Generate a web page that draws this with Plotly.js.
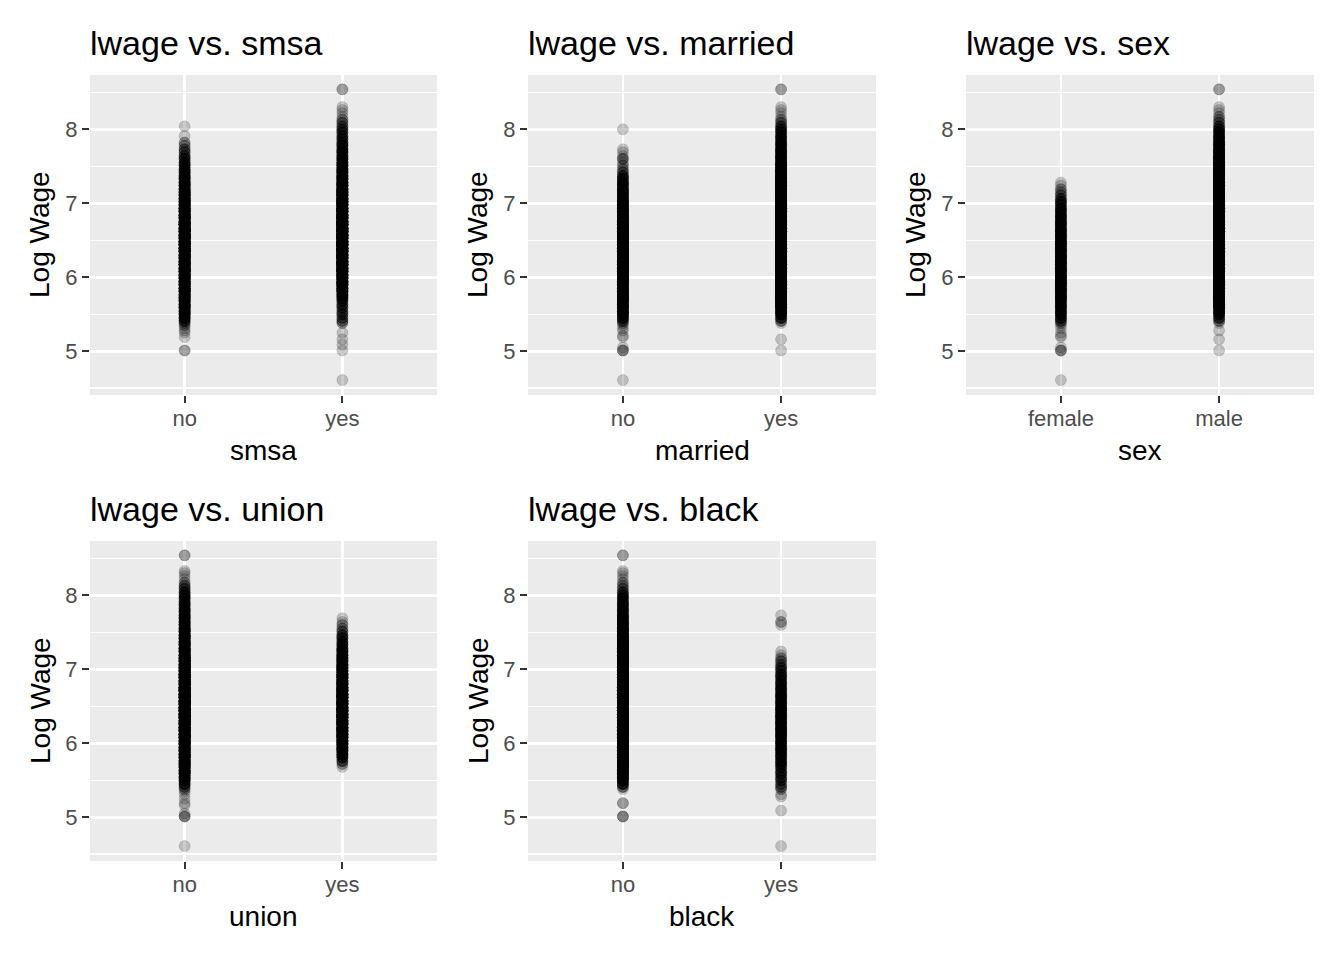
<!DOCTYPE html>
<html>
<head>
<meta charset="utf-8">
<script src="https://cdn.plot.ly/plotly-3.0.1.min.js"></script>
<style>
  html, body { margin: 0; padding: 0; background: #fff; }
  #chart { width: 1344px; height: 960px; }
</style>
</head>
<body>
<div id="chart"></div>
<script>
// distinct lwage values seen in the strips
const lwageLevels = [
  4.61, 5.01, 5.05, 5.09, 5.16, 5.19, 5.21, 5.25, 5.28, 5.31, 5.35, 5.38,
  5.41, 5.45, 5.50, 5.54, 5.59, 5.63, 5.68, 5.72, 5.76, 5.81, 5.85, 5.90, 5.94, 5.99,
  6.03, 6.08, 6.12, 6.17, 6.21, 6.26, 6.30, 6.35, 6.39, 6.44, 6.48, 6.53, 6.57, 6.62, 6.66, 6.71, 6.75, 6.80, 6.84, 6.89, 6.93, 6.98,
  7.02, 7.06, 7.11, 7.15, 7.19, 7.24, 7.28, 7.33, 7.37, 7.42, 7.46, 7.51, 7.55, 7.60, 7.64, 7.69, 7.73, 7.78, 7.82, 7.87, 7.91, 7.96,
  8.00, 8.04, 8.09, 8.13, 8.17, 8.22, 8.26, 8.30, 8.33, 8.54
];

// estimated number of overlapping points at each level, per group
const smsaNo = [
  0, 2, 0, 0, 0, 1, 0, 1, 1, 1, 2, 2,
  5, 8, 10, 11, 12, 13, 14, 15, 16, 17, 18, 18, 19, 20,
  20, 21, 21, 22, 22, 23, 23, 24, 24, 24, 25, 25, 24, 24, 23, 23, 22, 21, 20, 19, 18, 17,
  16, 15, 14, 13, 12, 11, 10, 9, 8, 7, 6, 6, 5, 5, 4, 3, 3, 2, 2, 0, 1, 0,
  0, 1, 0, 0, 0, 0, 0, 0, 0, 0
];
const smsaYes = [
  1, 1, 0, 1, 1, 0, 0, 1, 0, 0, 0, 2,
  3, 3, 4, 3, 4, 4, 5, 7, 9, 11, 13, 15, 17, 19,
  20, 21, 22, 23, 24, 25, 26, 27, 28, 28, 29, 29, 29, 28, 28, 27, 26, 25, 24, 23, 22, 21,
  20, 19, 18, 17, 16, 15, 14, 13, 12, 11, 10, 9, 8, 8, 7, 7, 6, 6, 5, 5, 4, 4,
  4, 3, 3, 2, 1, 1, 1, 1, 0, 2
];
const marriedNo = [
  1, 3, 1, 0, 0, 1, 1, 0, 1, 1, 1, 2,
  4, 7, 9, 10, 11, 12, 13, 14, 15, 16, 16, 17, 17, 18,
  18, 18, 19, 19, 19, 20, 20, 20, 20, 19, 19, 19, 18, 18, 17, 17, 16, 15, 14, 13, 12, 11,
  10, 9, 9, 8, 8, 7, 7, 6, 5, 3, 2, 2, 1, 3, 1, 1, 1, 0, 0, 0, 0, 0,
  1, 0, 0, 0, 0, 0, 0, 0, 0, 0
];
const marriedYes = [
  0, 1, 0, 0, 1, 0, 0, 0, 0, 0, 0, 1,
  3, 6, 8, 10, 12, 14, 16, 18, 20, 21, 22, 23, 24, 25,
  26, 27, 28, 29, 30, 30, 31, 31, 32, 32, 32, 32, 31, 31, 30, 29, 28, 27, 26, 25, 24, 23,
  22, 21, 20, 19, 18, 17, 16, 15, 14, 13, 12, 11, 10, 9, 9, 8, 8, 7, 7, 6, 6, 5,
  5, 4, 3, 2, 1, 1, 1, 1, 0, 2
];
const sexFemale = [
  1, 3, 1, 0, 0, 1, 1, 1, 0, 1, 1, 2,
  4, 6, 7, 7, 8, 8, 9, 9, 10, 10, 10, 11, 11, 11,
  11, 11, 11, 11, 11, 11, 11, 10, 10, 10, 10, 9, 9, 9, 8, 8, 8, 7, 7, 6, 6, 5,
  5, 4, 3, 2, 2, 1, 1, 0, 0, 0, 0, 0, 0, 0, 0, 0, 0, 0, 0, 0, 0, 0,
  0, 0, 0, 0, 0, 0, 0, 0, 0, 0
];
const sexMale = [
  0, 1, 0, 0, 1, 0, 0, 0, 1, 0, 0, 1,
  3, 5, 7, 9, 11, 13, 15, 17, 19, 21, 22, 23, 24, 25,
  26, 27, 28, 29, 30, 31, 32, 33, 34, 34, 35, 35, 35, 34, 34, 33, 32, 31, 30, 29, 28, 27,
  26, 25, 24, 23, 22, 21, 20, 19, 18, 17, 16, 15, 14, 13, 12, 11, 10, 9, 9, 8, 7, 6,
  5, 4, 3, 2, 2, 1, 1, 1, 0, 2
];
const unionNo = [
  1, 3, 1, 0, 1, 1, 0, 1, 0, 1, 1, 2,
  3, 6, 8, 10, 12, 14, 15, 16, 17, 18, 19, 20, 21, 22,
  23, 24, 25, 26, 27, 28, 29, 30, 31, 31, 32, 32, 32, 31, 31, 30, 29, 28, 27, 26, 25, 24,
  23, 22, 21, 20, 19, 18, 17, 16, 15, 14, 13, 12, 11, 10, 10, 9, 8, 8, 7, 7, 6, 6,
  5, 5, 4, 3, 2, 1, 1, 1, 1, 2
];
const unionYes = [
  0, 0, 0, 0, 0, 0, 0, 0, 0, 0, 0, 0,
  0, 0, 0, 0, 0, 0, 1, 2, 4, 6, 8, 10, 12, 14,
  15, 16, 17, 18, 19, 20, 21, 22, 22, 23, 23, 23, 22, 22, 21, 20, 19, 18, 17, 16, 15, 14,
  13, 12, 11, 10, 9, 8, 7, 6, 5, 5, 4, 3, 2, 2, 1, 1, 0, 0, 0, 0, 0, 0,
  0, 0, 0, 0, 0, 0, 0, 0, 0, 0
];
const blackNo = [
  0, 3, 0, 0, 0, 2, 0, 0, 0, 0, 0, 1,
  3, 7, 9, 11, 13, 15, 16, 17, 18, 19, 20, 21, 22, 23,
  24, 25, 26, 27, 28, 29, 30, 31, 32, 32, 33, 33, 33, 32, 32, 31, 30, 29, 28, 27, 26, 25,
  24, 23, 22, 21, 20, 19, 18, 17, 16, 15, 14, 13, 12, 11, 10, 9, 9, 8, 7, 7, 6, 6,
  5, 4, 3, 2, 2, 1, 1, 1, 1, 2
];
const blackYes = [
  1, 0, 0, 1, 0, 0, 0, 0, 1, 1, 0, 2,
  3, 3, 4, 4, 5, 4, 5, 5, 6, 6, 6, 7, 7, 7,
  7, 7, 8, 8, 8, 8, 8, 8, 8, 8, 8, 7, 7, 7, 7, 6, 6, 6, 5, 5, 5, 4,
  4, 3, 3, 2, 1, 1, 0, 0, 0, 0, 0, 0, 0, 1, 2, 0, 1, 0, 0, 0, 0, 0,
  0, 0, 0, 0, 0, 0, 0, 0, 0, 0
];

const noYes = ['no', 'yes'];
const sexLabels = ['female', 'male'];
const yTicks = [5, 6, 7, 8];
const yMinor = [4.5, 5.5, 6.5, 7.5, 8.5];

const panels = [
  { name: 'smsa', cats: noYes, counts: [smsaNo, smsaYes], col: 0, row: 0 },
  { name: 'married', cats: noYes, counts: [marriedNo, marriedYes], col: 1, row: 0 },
  { name: 'sex', cats: sexLabels, counts: [sexFemale, sexMale], col: 2, row: 0 },
  { name: 'union', cats: noYes, counts: [unionNo, unionYes], col: 0, row: 1 },
  { name: 'black', cats: noYes, counts: [blackNo, blackYes], col: 1, row: 1 }
];

const W = 1344, H = 960;
const colPx = [[90, 437], [528, 876], [966, 1314]];
const rowPx = [[75, 395], [541, 861]];
const FONT = 'Liberation Sans, Arial, Helvetica, sans-serif';

const px = v => v / W;
const py = v => 1 - v / H;

const traces = [];
const layout = {
  width: W, height: H,
  margin: { l: 0, r: 0, t: 0, b: 0 },
  paper_bgcolor: '#ffffff',
  plot_bgcolor: '#EBEBEB',
  showlegend: false,
  font: { family: FONT, color: '#000' },
  annotations: []
};

panels.forEach((p, i) => {
  const k = i + 1;
  const xa = 'x' + (k === 1 ? '' : k);
  const ya = 'y' + (k === 1 ? '' : k);
  const c = colPx[p.col], r = rowPx[p.row];

  p.cats.forEach((cat, j) => {
    const xs = [], ys = [];
    lwageLevels.forEach((v, idx) => {
      for (let n = 0; n < p.counts[j][idx]; n++) { xs.push(cat); ys.push(v); }
    });
    traces.push({
      type: 'scatter', mode: 'markers',
      x: xs, y: ys, xaxis: xa, yaxis: ya,
      marker: { size: 11, color: 'rgba(0,0,0,0.2)', line: { color: 'rgba(0,0,0,0.2)', width: 0.7 } },
      hoverinfo: 'skip'
    });
  });

  layout['xaxis' + (k === 1 ? '' : k)] = {
    domain: [px(c[0]), px(c[1])],
    anchor: ya,
    type: 'category',
    categoryorder: 'array', categoryarray: p.cats,
    range: [-0.6, 1.6],
    showgrid: true, gridcolor: '#ffffff', gridwidth: 2.6,
    zeroline: false, showline: false,
    ticks: 'outside', ticklen: 7, tickwidth: 2, tickcolor: '#333333',
    ticklabelstandoff: -3,
    tickfont: { family: FONT, size: 22, color: '#4D4D4D' },
    automargin: false, fixedrange: true
  };
  layout['yaxis' + (k === 1 ? '' : k)] = {
    domain: [py(r[1]), py(r[0])],
    anchor: xa,
    range: [4.408, 8.734],
    tickmode: 'array', tickvals: yTicks, ticktext: yTicks.map(String),
    showgrid: true, gridcolor: '#ffffff', gridwidth: 2.6,
    minor: { tickmode: 'array', tickvals: yMinor, showgrid: true, gridcolor: '#ffffff', gridwidth: 1.4, ticks: '' },
    zeroline: false, showline: false,
    ticks: 'outside', ticklen: 7, tickwidth: 2, tickcolor: '#333333',
    tickfont: { family: FONT, size: 22, color: '#4D4D4D' },
    automargin: false, fixedrange: true
  };

  // panel title
  layout.annotations.push({
    xref: 'paper', yref: 'paper', x: px(c[0] - 2), y: py(r[0] - 32),
    xanchor: 'left', yanchor: 'middle', showarrow: false,
    text: 'lwage vs. ' + p.name, font: { family: FONT, size: 34, color: '#000' }
  });
  // x axis title
  layout.annotations.push({
    xref: 'paper', yref: 'paper', x: px((c[0] + c[1]) / 2), y: py(r[1] + 55),
    xanchor: 'center', yanchor: 'middle', showarrow: false,
    text: p.name, font: { family: FONT, size: 28, color: '#000' }
  });
  // y axis title
  layout.annotations.push({
    xref: 'paper', yref: 'paper', x: px(c[0] - 50), y: py((r[0] + r[1]) / 2),
    xanchor: 'center', yanchor: 'middle', showarrow: false, textangle: -90,
    text: 'Log Wage', font: { family: FONT, size: 28, color: '#000' }
  });
});

Plotly.newPlot('chart', traces, layout, { staticPlot: true });
</script>
</body>
</html>
